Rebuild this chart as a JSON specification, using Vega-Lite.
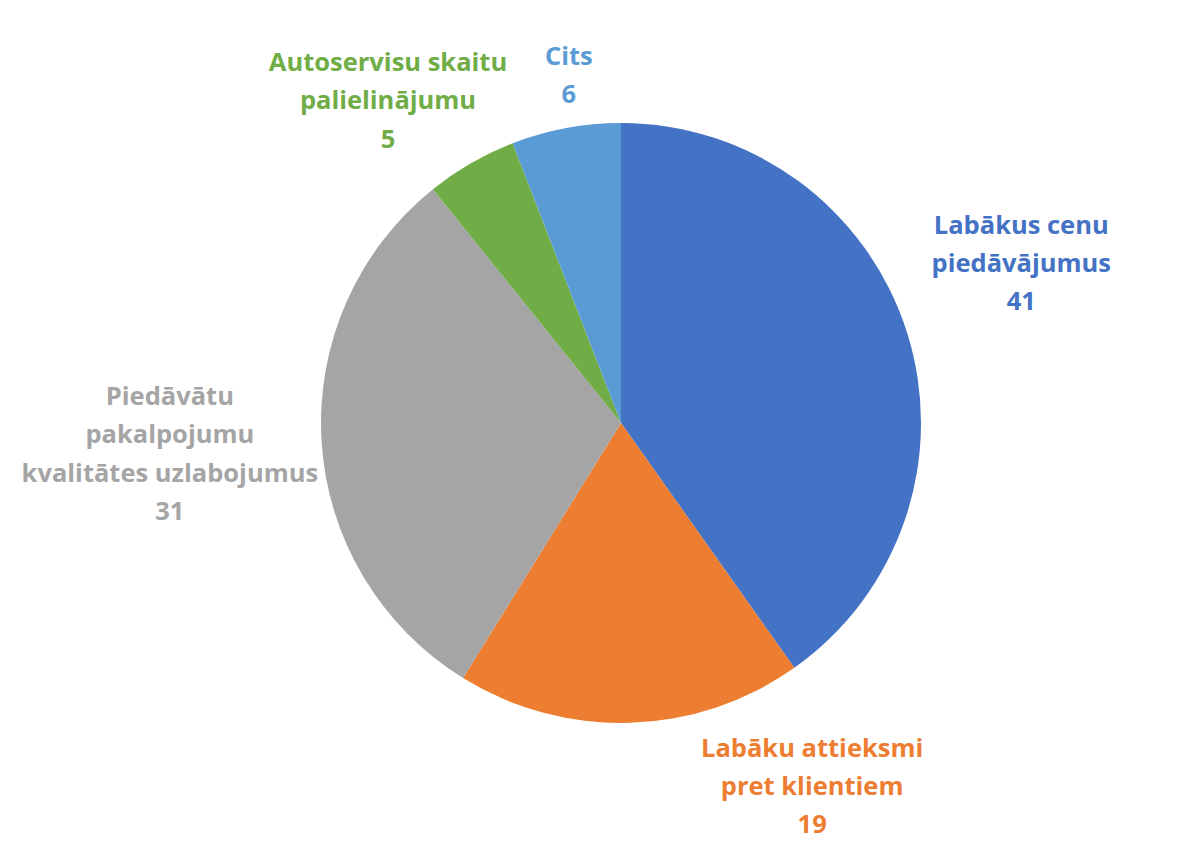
{
  "$schema": "https://vega.github.io/schema/vega-lite/v6.json",
  "autosize": {"type": "none"},
  "width": 1162,
  "height": 846,
  "padding": {"left": 40, "top": 0, "right": 0, "bottom": 17},
  "background": "#ffffff",
  "config": {"view": {"stroke": null}},
  "data": {
    "values": [
      {"n": 1, "cat": "Labākus cenu piedāvājumus", "label": "Labākus cenu\npiedāvājumus", "value": 41},
      {"n": 2, "cat": "Labāku attieksmi pret klientiem", "label": "Labāku attieksmi\npret klientiem", "value": 19},
      {"n": 3, "cat": "Piedāvātu pakalpojumu kvalitātes uzlabojumus", "label": "Piedāvātu\npakalpojumu\nkvalitātes uzlabojumus", "value": 31},
      {"n": 4, "cat": "Autoservisu skaitu palielinājumu", "label": "Autoservisu skaitu\npalielinājumu", "value": 5},
      {"n": 5, "cat": "Cits", "label": "Cits", "value": 6}
    ]
  },
  "transform": [
    {"stack": "value", "groupby": [], "sort": [{"field": "n", "order": "ascending"}], "as": ["v0", "v1"]},
    {"calculate": "(datum.v0 + datum.v1) / 2", "as": "mid"},
    {"calculate": "datum.label + '\\n' + datum.value", "as": "txt"}
  ],
  "encoding": {
    "color": {
      "field": "cat",
      "type": "nominal",
      "legend": null,
      "scale": {
        "domain": ["Labākus cenu piedāvājumus", "Labāku attieksmi pret klientiem", "Piedāvātu pakalpojumu kvalitātes uzlabojumus", "Autoservisu skaitu palielinājumu", "Cits"],
        "range": ["#4472C4", "#ED7D31", "#A5A5A5", "#70AD47", "#5B9BD5"]
      }
    }
  },
  "layer": [
    {
      "mark": {"type": "arc", "radius": 300, "stroke": null},
      "encoding": {
        "theta": {"field": "value", "type": "quantitative", "stack": true},
        "order": {"field": "n", "type": "quantitative"}
      }
    },
    {
      "transform": [{"filter": "datum.n == 1"}],
      "mark": {"type": "text", "radius": 420, "dy": -70, "font": "Open Sans", "fontWeight": "bold", "fontSize": 25.5, "lineBreak": "\n", "lineHeight": 38, "align": "center", "baseline": "middle"},
      "encoding": {"theta": {"field": "mid", "type": "quantitative"}, "text": {"field": "txt"}}
    },
    {
      "transform": [{"filter": "datum.n == 2"}],
      "mark": {"type": "text", "radius": 362, "dx": 180, "dy": -36, "font": "Open Sans", "fontWeight": "bold", "fontSize": 25.5, "lineBreak": "\n", "lineHeight": 38, "align": "center", "baseline": "middle"},
      "encoding": {"theta": {"field": "mid", "type": "quantitative"}, "text": {"field": "txt"}}
    },
    {
      "transform": [{"filter": "datum.n == 3"}],
      "mark": {"type": "text", "radius": 452, "dy": -54, "font": "Open Sans", "fontWeight": "bold", "fontSize": 25.5, "lineBreak": "\n", "lineHeight": 38.5, "align": "center", "baseline": "middle"},
      "encoding": {"theta": {"field": "mid", "type": "quantitative"}, "text": {"field": "txt"}}
    },
    {
      "transform": [{"filter": "datum.n == 4"}],
      "mark": {"type": "text", "radius": 380, "dx": -43, "dy": -31, "font": "Open Sans", "fontWeight": "bold", "fontSize": 25.5, "lineBreak": "\n", "lineHeight": 38.5, "align": "center", "baseline": "middle"},
      "encoding": {"theta": {"field": "mid", "type": "quantitative"}, "text": {"field": "txt"}}
    },
    {
      "transform": [{"filter": "datum.n == 5"}],
      "mark": {"type": "text", "radius": 355, "dx": 13, "dy": -17, "font": "Open Sans", "fontWeight": "bold", "fontSize": 25.5, "lineBreak": "\n", "lineHeight": 38, "align": "center", "baseline": "middle"},
      "encoding": {"theta": {"field": "mid", "type": "quantitative"}, "text": {"field": "txt"}}
    }
  ]
}
